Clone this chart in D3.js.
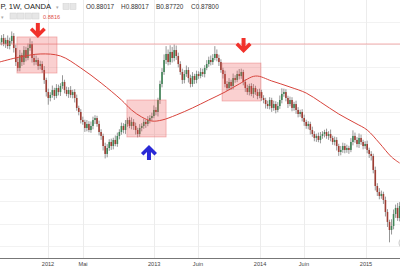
<!DOCTYPE html>
<html>
<head>
<meta charset="utf-8">
<script src="https://cdn.jsdelivr.net/npm/d3@7"></script>
<style>
  html, body { margin: 0; padding: 0; background: #fff; overflow: hidden; }
  svg { display: block; font-family: "Liberation Sans", Arial, sans-serif; }
</style>
</head>
<body>
<svg id="chart"></svg>
<script>
const width = 400, height = 267, axisY = 258;

// weekly candles, prices in pips (1/10000)
const firstWeek = "2011-07-18";
const firstOpen = 8800;
const closePips = [
  8822, 8858, 8804, 8840, 8786, 8831, 8876, 8768, 8643, 8590,
  8706, 8643, 8750, 8679, 8768, 8804, 8679, 8643, 8661, 8608,
  8625, 8572, 8483, 8375, 8322, 8349, 8393, 8340, 8411, 8375,
  8429, 8465, 8393, 8358, 8393, 8349, 8375, 8322, 8233, 8197,
  8125, 8108, 8054, 8090, 8036, 8072, 8125, 8143, 8090, 8018,
  7983, 7893, 7822, 7875, 7929, 7893, 7947, 7911, 7983, 8018,
  8072, 8036, 8090, 8125, 8072, 8108, 8072, 8036, 8000, 8054,
  8072, 8108, 8090, 8125, 8143, 8161, 8215, 8197, 8304, 8447,
  8554, 8661, 8715, 8643, 8733, 8679, 8750, 8697, 8625, 8554,
  8483, 8536, 8572, 8500, 8447, 8518, 8483, 8536, 8518, 8554,
  8536, 8590, 8625, 8661, 8643, 8679, 8715, 8679, 8643, 8572,
  8536, 8447, 8411, 8465, 8429, 8500, 8483, 8536, 8518, 8554,
  8465, 8411, 8375, 8429, 8358, 8411, 8375, 8340, 8375, 8322,
  8304, 8268, 8250, 8304, 8233, 8268, 8215, 8250, 8304, 8358,
  8375, 8322, 8268, 8304, 8233, 8268, 8215, 8179, 8197, 8143,
  8108, 8072, 8090, 8036, 8000, 7965, 7983, 7947, 7983, 8000,
  8018, 7983, 8000, 7965, 7929, 7947, 7893, 7840, 7858, 7893,
  7858, 7875, 7858, 7929, 7983, 7947, 7911, 7965, 7929, 7893,
  7911, 7858, 7822, 7804, 7679, 7536, 7482, 7447, 7465, 7411,
  7304, 7215, 7143, 7179, 7286, 7340, 7250, 7357
];
const wickUp = [
  30, 25, 35, 20, 40, 30, 40, 25, 30, 35,
  45, 20, 35, 30, 40, 50, 25, 30, 40, 20,
  30, 25, 35, 20, 30, 25, 40, 20, 35, 30,
  25, 60, 20, 30, 25, 35, 20, 25, 30, 20,
  25, 30, 20, 35, 25, 40, 30, 25, 20, 30,
  25, 20, 30, 35, 25, 30, 20, 40, 30, 25,
  30, 25, 35, 20, 30, 40, 25, 30, 20, 35,
  25, 30, 20, 35, 25, 30, 40, 25, 20, 30,
  35, 50, 70, 40, 60, 45, 50, 40, 30, 25,
  30, 35, 40, 25, 30, 35, 20, 30, 25, 35,
  30, 25, 35, 30, 40, 35, 70, 40, 30, 25,
  20, 30, 25, 35, 20, 40, 25, 30, 45, 30,
  20, 25, 30, 20, 25, 35, 20, 25, 30, 20,
  25, 20, 30, 25, 20, 30, 25, 35, 40, 50,
  30, 25, 20, 30, 25, 20, 30, 25, 20, 25,
  30, 20, 25, 20, 30, 25, 20, 30, 35, 25,
  20, 30, 25, 40, 20, 30, 25, 20, 35, 30,
  25, 30, 20, 35, 50, 30, 25, 40, 30, 20,
  25, 30, 20, 25, 20, 30, 25, 35, 30, 20,
  30, 25, 20, 60, 40, 30, 45, 35
];
const wickDn = [
  25, 30, 20, 35, 25, 30, 25, 40, 35, 30,
  30, 35, 25, 30, 20, 25, 40, 30, 25, 35,
  30, 25, 35, 40, 60, 30, 25, 35, 20, 30,
  35, 25, 30, 20, 35, 25, 30, 40, 25, 30,
  30, 25, 35, 30, 20, 25, 30, 35, 25, 30,
  35, 40, 40, 30, 25, 35, 30, 20, 25, 30,
  25, 30, 35, 25, 20, 30, 35, 40, 30, 25,
  30, 25, 35, 20, 30, 25, 20, 30, 40, 35,
  30, 25, 35, 30, 25, 40, 30, 35, 30, 25,
  35, 30, 25, 40, 30, 25, 35, 30, 25, 20,
  25, 30, 20, 25, 30, 25, 20, 30, 35, 25,
  40, 30, 25, 20, 35, 30, 25, 20, 30, 25,
  30, 35, 25, 30, 20, 35, 25, 30, 20, 25,
  30, 40, 25, 30, 35, 25, 30, 20, 25, 30,
  25, 30, 35, 20, 30, 25, 35, 30, 25, 30,
  35, 25, 30, 40, 25, 30, 35, 20, 30, 25,
  30, 25, 35, 30, 25, 30, 40, 35, 30, 25,
  30, 25, 35, 20, 30, 25, 30, 35, 25, 30,
  25, 30, 35, 40, 30, 40, 35, 30, 25, 35,
  40, 45, 110, 40, 30, 35, 25, 30
];

// moving average, sampled at some week indexes
const maWeek = [0, 10, 20, 30, 40, 50, 60, 65, 70, 75, 80, 87, 95, 103, 111, 118, 126, 134, 143, 151, 158, 167, 175, 181, 187, 193, 197];
const maPips = [8643, 8688, 8715, 8697, 8590, 8456, 8304, 8215, 8152, 8116, 8125, 8170, 8233, 8304, 8375, 8447, 8518, 8474, 8420, 8366, 8286, 8179, 8099, 8036, 7920, 7795, 7741];

const tickDates = ["2012-01-01", "2012-05-01", "2013-01-01", "2013-06-01", "2014-01-01", "2014-06-01", "2015-01-01"];
const tickLabels = ["2012", "Mai", "2013", "Juin", "2014", "Juin", "2015"];
const gridPips = [7000, 7200, 7400, 7600, 7800, 8000, 8200, 8400, 8600, 8800, 9000];

// drawings
const boxStart = ["2011-09-16", "2012-09-29", "2013-08-23"];
const boxEnd = ["2012-02-01", "2013-02-11", "2014-01-04"];
const boxTop = [8867, 8304, 8634];
const boxBottom = [8545, 7974, 8295];
const arrowDates = ["2011-11-27", "2013-11-05", "2012-12-14"];
const arrowPips = [8858, 8724, 7902];
const arrowDir = ["down", "down", "up"];
const arrowColors = ["#f1312b", "#f1312b", "#2a2ad6"];
const levelPips = 8804;

const legendKeys = ["O", "H", "B", "C"];
const legendVals = ["0.88017", "0.88017", "0.87720", "0.87800"];
const legendX = [86, 121, 156, 191];

const parse = d3.timeParse("%Y-%m-%d");
const week0 = parse(firstWeek);
const weekDate = i => d3.timeDay.offset(week0, 7 * i);

const candles = closePips.map((c, i) => {
  const o = i ? closePips[i - 1] : firstOpen;
  return { date: weekDate(i), o, c, h: Math.max(o, c) + wickUp[i], l: Math.min(o, c) - wickDn[i] };
});

const x = d3.scaleTime()
  .domain([parse("2012-01-01"), parse("2015-01-01")])
  .range([48, 366]);
const y = d3.scaleLinear()
  .domain([9197, 6893])
  .range([0, axisY]);

const svg = d3.select("#chart").attr("width", width).attr("height", height);

svg.append("defs").append("clipPath").attr("id", "plot")
  .append("rect").attr("x", 0).attr("y", 0).attr("width", width).attr("height", axisY);

const plot = svg.append("g").attr("clip-path", "url(#plot)");

// grid
plot.selectAll(".hgrid").data(gridPips).enter().append("line")
  .attr("x1", 0).attr("x2", width)
  .attr("y1", d => Math.round(y(d)) + 0.5).attr("y2", d => Math.round(y(d)) + 0.5)
  .attr("stroke", "#f2f2f2");
plot.selectAll(".vgrid").data(tickDates).enter().append("line")
  .attr("x1", d => Math.round(x(parse(d))) + 0.5).attr("x2", d => Math.round(x(parse(d))) + 0.5)
  .attr("y1", 0).attr("y2", axisY)
  .attr("stroke", "#ececec");

// candles
const cg = plot.append("g");
cg.selectAll(".wick").data(candles).enter().append("line")
  .attr("x1", d => x(d.date)).attr("x2", d => x(d.date))
  .attr("y1", d => y(d.h)).attr("y2", d => y(d.l))
  .attr("stroke", "#7c7c7c").attr("stroke-width", 0.8);
cg.selectAll(".body").data(candles).enter().append("rect")
  .attr("x", d => x(d.date) - 0.8)
  .attr("width", 1.6)
  .attr("y", d => y(Math.max(d.o, d.c)))
  .attr("height", d => Math.max(0.8, Math.abs(y(d.o) - y(d.c))))
  .attr("fill", d => d.c >= d.o ? "#3f8456" : "#9e3d33");

// pink boxes
plot.selectAll(".box").data(boxStart).enter().append("rect")
  .attr("x", (d, i) => x(parse(d)))
  .attr("width", (d, i) => x(parse(boxEnd[i])) - x(parse(d)))
  .attr("y", (d, i) => y(boxTop[i]))
  .attr("height", (d, i) => y(boxBottom[i]) - y(boxTop[i]))
  .attr("fill", "rgba(236, 80, 80, 0.27)")
  .attr("stroke", "rgba(228, 90, 90, 0.45)")
  .attr("stroke-width", 0.8);

// moving average
const maLine = d3.line()
  .x(d => x(weekDate(d[0])))
  .y(d => y(d[1]))
  .curve(d3.curveCatmullRom);
plot.append("path")
  .datum(maWeek.map((w, i) => [w, maPips[i]]))
  .attr("d", maLine)
  .attr("fill", "none")
  .attr("stroke", "#d8443c")
  .attr("stroke-width", 1);

// horizontal level
plot.append("line")
  .attr("x1", 0).attr("x2", width)
  .attr("y1", y(levelPips)).attr("y2", y(levelPips))
  .attr("stroke", "rgba(238, 110, 110, 0.55)")
  .attr("stroke-width", 1);

// arrows (tip at the given point)
const arrowShape = "M0,0 L-8,-8 L-5.5,-10.5 L-2,-7 L-2,-15 L2,-15 L2,-7 L5.5,-10.5 L8,-8 Z";
plot.selectAll(".arrow").data(arrowDates).enter().append("path")
  .attr("d", arrowShape)
  .attr("transform", (d, i) => `translate(${x(parse(d))},${y(arrowPips[i])}) scale(1,${arrowDir[i] === "up" ? -1 : 1})`)
  .attr("fill", (d, i) => arrowColors[i]);

// corner widget
plot.append("circle").attr("cx", 405).attr("cy", 243).attr("r", 6)
  .attr("fill", "#fff").attr("stroke", "#c8c8c8");

// x axis
svg.append("line")
  .attr("x1", 0).attr("x2", width)
  .attr("y1", axisY + 0.5).attr("y2", axisY + 0.5)
  .attr("stroke", "#777");
svg.selectAll(".tick").data(tickDates).enter().append("text")
  .attr("x", d => x(parse(d)))
  .attr("y", 265.5)
  .attr("text-anchor", "middle")
  .attr("font-size", 5.6)
  .attr("fill", "#444")
  .text((d, i) => tickLabels[i]);

// header
const head = svg.append("g");
head.append("text").attr("x", 0.5).attr("y", 9).attr("font-size", 7.6).attr("fill", "#222")
  .text("P, 1W, OANDA");
head.append("text").attr("x", 55.5).attr("y", 8.5).attr("font-size", 5).attr("fill", "#aaa").text("▾");
[63, 70].forEach(bx => head.append("rect").attr("x", bx).attr("y", 3.5).attr("width", 6).attr("height", 6)
  .attr("fill", "#e6e6e6").attr("stroke", "#d0d0d0").attr("stroke-width", 0.5));
legendKeys.forEach((k, i) => {
  const t = head.append("text").attr("x", legendX[i]).attr("y", 9).attr("font-size", 6.4).attr("fill", "#333");
  t.append("tspan").text(k);
  t.append("tspan").text(legendVals[i]);
});
head.append("text").attr("x", 1).attr("y", 19).attr("font-size", 5).attr("fill", "#aaa").text("▾");
[10, 17.5, 25, 32.5].forEach(bx => head.append("rect").attr("x", bx).attr("y", 13).attr("width", 6.5).attr("height", 6)
  .attr("fill", "#e6e6e6").attr("stroke", "#d0d0d0").attr("stroke-width", 0.5));
head.append("text").attr("x", 43).attr("y", 18.5).attr("font-size", 5.6).attr("fill", "#e0524a").text("0.8816");
</script>
</body>
</html>
